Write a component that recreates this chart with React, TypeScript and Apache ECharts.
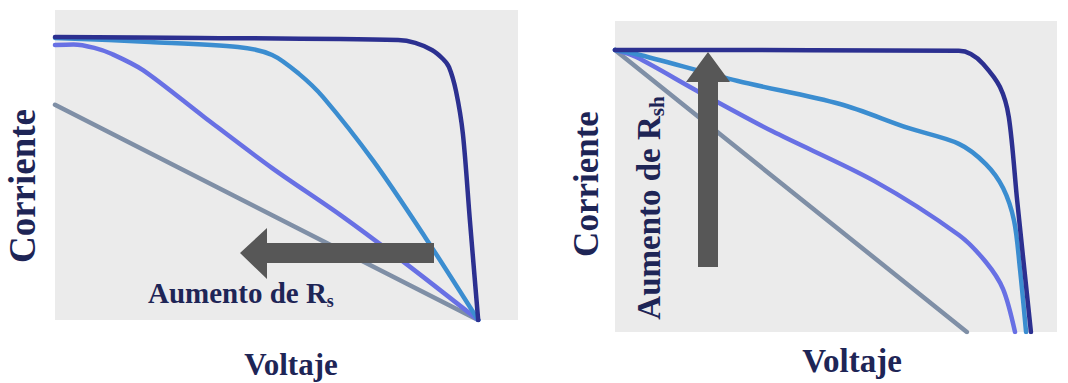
import { useEffect, useRef } from "react";
import * as echarts from "echarts";

// I–V curves, left panel: effect of increasing series resistance (Rs)
const rsLow = [[0, 91.3], [31.3, 91.0], [74.1, 90.3], [77.8, 89.4], [81.4, 87.1], [83.8, 84.2], [85.1, 81.6], [86.6, 73.9], [88.1, 60.0], [89.6, 32.3], [91.4, 0]];
const rsMid = [[0, 91.0], [20.5, 89.7], [39.5, 88.1], [46.9, 85.5], [52.7, 79.4], [57.9, 71.9], [68.9, 51.0], [79.9, 26.8], [91.4, 0]];
const rsHigh = [[0, 88.7], [4.0, 88.9], [8.5, 87.8], [12.3, 85.8], [19.0, 80.6], [32.2, 65.5], [46.9, 49.0], [61.6, 33.9], [76.2, 17.7], [91.4, 0]];
const rsMax = [[0, 69.4], [91.4, 0]];

// I–V curves, right panel: effect of increasing shunt resistance (Rsh)
const rshHigh = [[0, 90.7], [77.8, 90.4], [80.5, 89.4], [83.3, 86.2], [87.1, 78.8], [89.1, 69.1], [91.0, 42.1], [94.1, 0]];
const rshMid = [[0, 90.7], [4.8, 89.4], [27.8, 80.7], [50.9, 73.3], [66.3, 65.6], [77.8, 60.5], [83.9, 54.0], [87.8, 46.3], [90.3, 35.7], [91.6, 20.6], [93.0, 0]];
const rshLow = [[0, 90.7], [4.8, 88.4], [18.6, 77.5], [35.5, 64.6], [58.6, 48.6], [77.8, 31.2], [83.9, 22.5], [87.8, 13.8], [90.5, 0]];
const rshMin = [[0, 90.7], [79.6, 0]];

const xLabel = "Voltaje";
const yLabel = "Corriente";
const rsLabel = "Aumento de R";
const rsSub = "s";
const rshSub = "sh";

const NAVY = "#2c3090";
const CYAN = "#3b8dd0";
const VIOLET = "#6870e4";
const SLATE = "#7f8fa6";
const TEXT = "#1e2556";
const ARROW = "#575757";
const FONT = "'Liberation Serif', 'DejaVu Serif', serif";

function curve(data: number[][], color: string, idx: number) {
  return {
    type: "line",
    xAxisIndex: idx,
    yAxisIndex: idx,
    data,
    smooth: 0.3,
    showSymbol: false,
    symbol: "none",
    lineStyle: { color, width: 4.5, cap: "round", join: "round" },
    z: 2,
  };
}

function richFor(main: number, sub: number) {
  return {
    m: { fontSize: main, fontWeight: "bold", fontFamily: FONT, fill: TEXT, color: TEXT, lineHeight: main + 2, verticalAlign: "top" },
    s: { fontSize: sub, fontWeight: "bold", fontFamily: FONT, fill: TEXT, color: TEXT, lineHeight: sub + 2, verticalAlign: "bottom", padding: [main - sub + 8, 0, 0, 0] },
  };
}

export default function App() {
  const ref = useRef<HTMLDivElement>(null);

  useEffect(() => {
    if (!ref.current) return;
    const chart = echarts.init(ref.current, null, { renderer: "svg" });
    const axisX = (gridIndex: number) => ({
      type: "value", gridIndex, min: 0, max: 100, show: false,
    });
    const axisY = (gridIndex: number) => ({
      type: "value", gridIndex, min: 0, max: 100, show: false,
    });
    const label = (text: string, x: number, y: number, size: number, rotation = 0) => ({
      type: "text",
      x, y, rotation,
      z: 100,
      style: {
        text,
        fill: TEXT,
        font: `bold ${size}px ${FONT}`,
        align: "center",
        verticalAlign: "middle",
      },
    });
    const subText = (main: string, sub: string) => `{m|${main}}{s|${sub}}`;

    chart.setOption({
      animation: false,
      backgroundColor: "#ffffff",
      grid: [
        { left: 55, top: 10, width: 463, height: 310, show: true, backgroundColor: "#ebebeb", borderWidth: 0 },
        { left: 615, top: 21, width: 442, height: 311, show: true, backgroundColor: "#ebebeb", borderWidth: 0 },
      ],
      xAxis: [axisX(0), axisX(1)],
      yAxis: [axisY(0), axisY(1)],
      series: [
        curve(rsMax, SLATE, 0),
        curve(rsHigh, VIOLET, 0),
        curve(rsMid, CYAN, 0),
        curve(rsLow, NAVY, 0),
        curve(rshMin, SLATE, 1),
        curve(rshLow, VIOLET, 1),
        curve(rshMid, CYAN, 1),
        curve(rshHigh, NAVY, 1),
      ],
      graphic: [
        {
          type: "polygon",
          z: 90,
          shape: { points: [[240, 253], [267, 228], [267, 243], [434, 243], [434, 263], [267, 263], [267, 279]] },
          style: { fill: ARROW },
        },
        {
          type: "polygon",
          z: 90,
          shape: { points: [[708, 52], [730, 82], [718, 82], [718, 267], [698, 267], [698, 82], [686, 82]] },
          style: { fill: ARROW },
        },
        label(xLabel, 291, 364, 31),
        label(xLabel, 852, 361, 33),
        label(yLabel, 22, 186, 37, Math.PI / 2),
        label(yLabel, 586, 184, 35, Math.PI / 2),
        {
          type: "text",
          x: 148, y: 294, z: 100,
          style: { text: subText(rsLabel, rsSub), rich: richFor(29, 18), align: "left", verticalAlign: "middle" },
        },
        {
          type: "text",
          x: 650, y: 208, z: 100, rotation: Math.PI / 2,
          style: { text: subText(rsLabel, rshSub), rich: richFor(33, 21), align: "center", verticalAlign: "middle" },
        },
      ],
    });
    return () => chart.dispose();
  }, []);

  return (
    <div
      ref={ref}
      style={{ position: "fixed", left: 0, top: 0, width: 1068, height: 383 }}
    />
  );
}
